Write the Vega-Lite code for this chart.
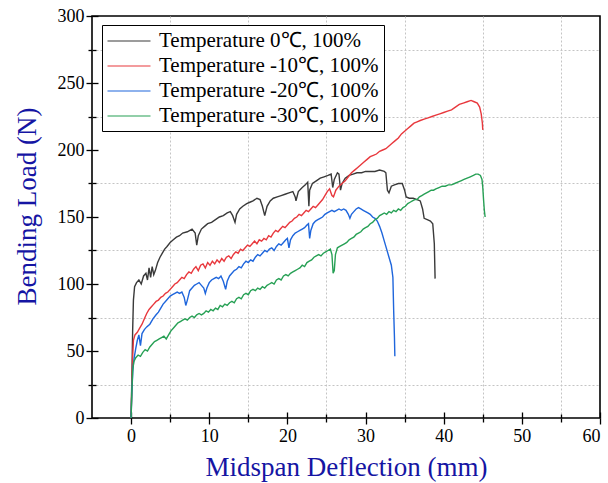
{
  "$schema": "https://vega.github.io/schema/vega-lite/v6.json",
  "width": 508,
  "height": 402,
  "autosize": {"type": "none"},
  "padding": {"left": 92, "top": 16, "right": 8, "bottom": 65},
  "background": "white",
  "config": {
    "view": {"stroke": "#000000", "strokeWidth": 1.6},
    "font": "Liberation Serif",
    "axis": {
      "labelFont": "Liberation Serif",
      "titleFont": "Liberation Serif",
      "labelColor": "#000000",
      "tickColor": "#000000",
      "domain": false,
      "tickWidth": 1.3
    }
  },
  "datasets": {
    "curves": [
      {"s":"a","x":0,"y":0},{"s":"a","x":0.1,"y":30},{"s":"a","x":0.2,"y":65},{"s":"a","x":0.3,"y":88},{"s":"a","x":0.45,"y":98},{"s":"a","x":0.7,"y":101},{"s":"a","x":1.0,"y":103},{"s":"a","x":1.3,"y":100},{"s":"a","x":1.6,"y":106},{"s":"a","x":1.9,"y":108},{"s":"a","x":2.1,"y":103},{"s":"a","x":2.3,"y":112},{"s":"a","x":2.5,"y":105},{"s":"a","x":2.7,"y":113},{"s":"a","x":2.9,"y":107},{"s":"a","x":3.1,"y":110},{"s":"a","x":3.4,"y":116},{"s":"a","x":3.7,"y":120},{"s":"a","x":4.0,"y":123},{"s":"a","x":4.3,"y":126},{"s":"a","x":4.6,"y":128},{"s":"a","x":5.0,"y":131},{"s":"a","x":5.4,"y":133},{"s":"a","x":5.8,"y":135},{"s":"a","x":6.2,"y":136},{"s":"a","x":6.6,"y":138},{"s":"a","x":7.2,"y":139},{"s":"a","x":7.8,"y":141},{"s":"a","x":8.2,"y":138},{"s":"a","x":8.4,"y":129},{"s":"a","x":8.6,"y":136},{"s":"a","x":9.0,"y":141},{"s":"a","x":9.4,"y":143},{"s":"a","x":9.8,"y":145},{"s":"a","x":10.3,"y":146},{"s":"a","x":10.8,"y":148},{"s":"a","x":11.3,"y":150},{"s":"a","x":11.8,"y":151},{"s":"a","x":12.3,"y":153},{"s":"a","x":12.7,"y":154},{"s":"a","x":13.0,"y":151},{"s":"a","x":13.3,"y":146},{"s":"a","x":13.5,"y":152},{"s":"a","x":13.9,"y":156},{"s":"a","x":14.3,"y":158},{"s":"a","x":14.8,"y":160},{"s":"a","x":15.2,"y":161},{"s":"a","x":15.6,"y":162},{"s":"a","x":16.1,"y":164},{"s":"a","x":16.5,"y":163},{"s":"a","x":16.8,"y":158},{"s":"a","x":17.1,"y":151},{"s":"a","x":17.4,"y":158},{"s":"a","x":17.8,"y":162},{"s":"a","x":18.2,"y":164},{"s":"a","x":18.7,"y":165},{"s":"a","x":19.2,"y":166},{"s":"a","x":19.7,"y":167},{"s":"a","x":20.2,"y":168},{"s":"a","x":20.7,"y":169},{"s":"a","x":21.0,"y":165},{"s":"a","x":21.1,"y":162},{"s":"a","x":21.4,"y":169},{"s":"a","x":21.9,"y":172},{"s":"a","x":22.3,"y":174},{"s":"a","x":22.6,"y":176},{"s":"a","x":22.75,"y":158},{"s":"a","x":22.85,"y":170},{"s":"a","x":23.2,"y":175},{"s":"a","x":23.7,"y":177},{"s":"a","x":24.2,"y":179},{"s":"a","x":24.7,"y":180},{"s":"a","x":25.2,"y":181},{"s":"a","x":25.6,"y":182},{"s":"a","x":25.8,"y":172},{"s":"a","x":26.0,"y":178},{"s":"a","x":26.4,"y":183},{"s":"a","x":26.6,"y":182},{"s":"a","x":26.8,"y":170},{"s":"a","x":27.0,"y":175},{"s":"a","x":27.4,"y":179},{"s":"a","x":27.9,"y":181},{"s":"a","x":28.4,"y":182},{"s":"a","x":28.9,"y":183},{"s":"a","x":29.5,"y":183},{"s":"a","x":30.0,"y":184},{"s":"a","x":30.6,"y":184},{"s":"a","x":31.2,"y":184},{"s":"a","x":31.8,"y":185},{"s":"a","x":32.4,"y":184},{"s":"a","x":32.6,"y":183},{"s":"a","x":32.8,"y":170},{"s":"a","x":33.0,"y":168},{"s":"a","x":33.3,"y":173},{"s":"a","x":33.7,"y":174},{"s":"a","x":34.2,"y":175},{"s":"a","x":34.7,"y":175},{"s":"a","x":35.0,"y":170},{"s":"a","x":35.2,"y":165},{"s":"a","x":35.6,"y":164},{"s":"a","x":36.1,"y":164},{"s":"a","x":36.6,"y":163},{"s":"a","x":37.0,"y":162},{"s":"a","x":37.3,"y":156},{"s":"a","x":37.5,"y":149},{"s":"a","x":37.9,"y":148},{"s":"a","x":38.3,"y":147},{"s":"a","x":38.6,"y":145},{"s":"a","x":38.8,"y":130},{"s":"a","x":38.9,"y":104},
      {"s":"b","x":0,"y":0},{"s":"b","x":0.1,"y":25},{"s":"b","x":0.2,"y":45},{"s":"b","x":0.3,"y":58},{"s":"b","x":0.5,"y":62},{"s":"b","x":0.8,"y":64},{"s":"b","x":1.1,"y":67},{"s":"b","x":1.4,"y":70},{"s":"b","x":1.7,"y":74},{"s":"b","x":2.0,"y":78},{"s":"b","x":2.3,"y":81},{"s":"b","x":2.6,"y":83},{"s":"b","x":2.9,"y":85},{"s":"b","x":3.2,"y":87},{"s":"b","x":3.5,"y":88},{"s":"b","x":3.8,"y":90},{"s":"b","x":4.1,"y":91},{"s":"b","x":4.4,"y":93},{"s":"b","x":4.7,"y":94},{"s":"b","x":5.0,"y":96},{"s":"b","x":5.3,"y":98},{"s":"b","x":5.6,"y":100},{"s":"b","x":5.9,"y":101},{"s":"b","x":6.2,"y":103},{"s":"b","x":6.5,"y":105},{"s":"b","x":6.8,"y":104},{"s":"b","x":7.1,"y":107},{"s":"b","x":7.4,"y":109},{"s":"b","x":7.7,"y":108},{"s":"b","x":8.0,"y":111},{"s":"b","x":8.3,"y":113},{"s":"b","x":8.6,"y":110},{"s":"b","x":8.9,"y":114},{"s":"b","x":9.2,"y":115},{"s":"b","x":9.5,"y":112},{"s":"b","x":9.8,"y":116},{"s":"b","x":10.1,"y":114},{"s":"b","x":10.4,"y":117},{"s":"b","x":10.7,"y":115},{"s":"b","x":11.0,"y":118},{"s":"b","x":11.3,"y":116},{"s":"b","x":11.6,"y":119},{"s":"b","x":11.9,"y":117},{"s":"b","x":12.2,"y":120},{"s":"b","x":12.5,"y":121},{"s":"b","x":12.8,"y":119},{"s":"b","x":13.1,"y":122},{"s":"b","x":13.4,"y":124},{"s":"b","x":13.7,"y":123},{"s":"b","x":14.0,"y":126},{"s":"b","x":14.3,"y":125},{"s":"b","x":14.6,"y":127},{"s":"b","x":14.9,"y":129},{"s":"b","x":15.2,"y":128},{"s":"b","x":15.5,"y":130},{"s":"b","x":15.8,"y":132},{"s":"b","x":16.1,"y":130},{"s":"b","x":16.4,"y":133},{"s":"b","x":16.7,"y":132},{"s":"b","x":17.0,"y":134},{"s":"b","x":17.3,"y":133},{"s":"b","x":17.6,"y":136},{"s":"b","x":17.9,"y":135},{"s":"b","x":18.2,"y":138},{"s":"b","x":18.5,"y":140},{"s":"b","x":18.8,"y":139},{"s":"b","x":19.1,"y":141},{"s":"b","x":19.4,"y":143},{"s":"b","x":19.7,"y":142},{"s":"b","x":20.0,"y":144},{"s":"b","x":20.3,"y":146},{"s":"b","x":20.6,"y":147},{"s":"b","x":20.9,"y":149},{"s":"b","x":21.2,"y":150},{"s":"b","x":21.5,"y":152},{"s":"b","x":21.8,"y":151},{"s":"b","x":22.1,"y":153},{"s":"b","x":22.4,"y":155},{"s":"b","x":22.7,"y":154},{"s":"b","x":23.0,"y":156},{"s":"b","x":23.3,"y":158},{"s":"b","x":23.6,"y":157},{"s":"b","x":23.9,"y":159},{"s":"b","x":24.2,"y":161},{"s":"b","x":24.5,"y":163},{"s":"b","x":24.8,"y":166},{"s":"b","x":25.1,"y":169},{"s":"b","x":25.4,"y":171},{"s":"b","x":25.7,"y":166},{"s":"b","x":25.9,"y":165},{"s":"b","x":26.2,"y":170},{"s":"b","x":26.6,"y":173},{"s":"b","x":27.0,"y":175},{"s":"b","x":27.4,"y":177},{"s":"b","x":27.8,"y":180},{"s":"b","x":28.2,"y":183},{"s":"b","x":28.6,"y":185},{"s":"b","x":29.0,"y":187},{"s":"b","x":29.4,"y":189},{"s":"b","x":29.8,"y":191},{"s":"b","x":30.2,"y":193},{"s":"b","x":30.6,"y":195},{"s":"b","x":31.0,"y":196},{"s":"b","x":31.4,"y":197},{"s":"b","x":31.8,"y":199},{"s":"b","x":32.2,"y":200},{"s":"b","x":32.6,"y":201},{"s":"b","x":33.0,"y":203},{"s":"b","x":33.4,"y":205},{"s":"b","x":33.8,"y":207},{"s":"b","x":34.2,"y":209},{"s":"b","x":34.6,"y":212},{"s":"b","x":35.0,"y":214},{"s":"b","x":35.4,"y":216},{"s":"b","x":35.8,"y":218},{"s":"b","x":36.2,"y":220},{"s":"b","x":36.6,"y":221},{"s":"b","x":37.0,"y":222},{"s":"b","x":37.5,"y":223},{"s":"b","x":38.0,"y":224},{"s":"b","x":38.5,"y":225},{"s":"b","x":39.0,"y":226},{"s":"b","x":39.5,"y":227},{"s":"b","x":40.0,"y":228},{"s":"b","x":40.5,"y":229},{"s":"b","x":41.0,"y":230},{"s":"b","x":41.5,"y":232},{"s":"b","x":42.0,"y":234},{"s":"b","x":42.5,"y":235},{"s":"b","x":43.0,"y":236},{"s":"b","x":43.5,"y":237},{"s":"b","x":43.9,"y":236},{"s":"b","x":44.3,"y":235},{"s":"b","x":44.6,"y":232},{"s":"b","x":44.8,"y":227},{"s":"b","x":44.95,"y":220},{"s":"b","x":45.0,"y":215},
      {"s":"c","x":0,"y":0},{"s":"c","x":0.1,"y":20},{"s":"c","x":0.25,"y":38},{"s":"c","x":0.4,"y":45},{"s":"c","x":0.6,"y":52},{"s":"c","x":0.8,"y":58},{"s":"c","x":1.0,"y":62},{"s":"c","x":1.2,"y":54},{"s":"c","x":1.4,"y":63},{"s":"c","x":1.7,"y":66},{"s":"c","x":2.0,"y":68},{"s":"c","x":2.4,"y":70},{"s":"c","x":2.8,"y":74},{"s":"c","x":3.2,"y":77},{"s":"c","x":3.5,"y":79},{"s":"c","x":3.8,"y":82},{"s":"c","x":4.1,"y":85},{"s":"c","x":4.4,"y":87},{"s":"c","x":4.7,"y":89},{"s":"c","x":5.0,"y":91},{"s":"c","x":5.3,"y":92},{"s":"c","x":5.6,"y":93},{"s":"c","x":5.9,"y":94},{"s":"c","x":6.2,"y":93},{"s":"c","x":6.5,"y":94},{"s":"c","x":6.8,"y":90},{"s":"c","x":7.0,"y":84},{"s":"c","x":7.2,"y":88},{"s":"c","x":7.5,"y":95},{"s":"c","x":7.8,"y":97},{"s":"c","x":8.1,"y":99},{"s":"c","x":8.4,"y":100},{"s":"c","x":8.7,"y":101},{"s":"c","x":9.0,"y":99},{"s":"c","x":9.3,"y":97},{"s":"c","x":9.5,"y":93},{"s":"c","x":9.7,"y":97},{"s":"c","x":10.0,"y":101},{"s":"c","x":10.3,"y":103},{"s":"c","x":10.6,"y":104},{"s":"c","x":10.9,"y":105},{"s":"c","x":11.2,"y":104},{"s":"c","x":11.5,"y":106},{"s":"c","x":11.8,"y":102},{"s":"c","x":12.1,"y":96},{"s":"c","x":12.3,"y":102},{"s":"c","x":12.6,"y":106},{"s":"c","x":12.9,"y":108},{"s":"c","x":13.2,"y":110},{"s":"c","x":13.5,"y":111},{"s":"c","x":13.8,"y":113},{"s":"c","x":14.1,"y":112},{"s":"c","x":14.4,"y":115},{"s":"c","x":14.7,"y":117},{"s":"c","x":15.0,"y":116},{"s":"c","x":15.3,"y":118},{"s":"c","x":15.6,"y":117},{"s":"c","x":15.9,"y":120},{"s":"c","x":16.2,"y":122},{"s":"c","x":16.5,"y":121},{"s":"c","x":16.8,"y":123},{"s":"c","x":17.1,"y":125},{"s":"c","x":17.4,"y":124},{"s":"c","x":17.7,"y":126},{"s":"c","x":18.0,"y":127},{"s":"c","x":18.3,"y":125},{"s":"c","x":18.6,"y":128},{"s":"c","x":18.9,"y":130},{"s":"c","x":19.2,"y":129},{"s":"c","x":19.5,"y":131},{"s":"c","x":19.8,"y":133},{"s":"c","x":20.0,"y":134},{"s":"c","x":20.2,"y":127},{"s":"c","x":20.4,"y":133},{"s":"c","x":20.7,"y":136},{"s":"c","x":21.0,"y":138},{"s":"c","x":21.3,"y":139},{"s":"c","x":21.6,"y":140},{"s":"c","x":21.9,"y":141},{"s":"c","x":22.2,"y":142},{"s":"c","x":22.5,"y":144},{"s":"c","x":22.7,"y":145},{"s":"c","x":22.85,"y":134},{"s":"c","x":23.0,"y":140},{"s":"c","x":23.3,"y":145},{"s":"c","x":23.6,"y":147},{"s":"c","x":23.9,"y":148},{"s":"c","x":24.2,"y":149},{"s":"c","x":24.5,"y":150},{"s":"c","x":24.8,"y":152},{"s":"c","x":25.1,"y":153},{"s":"c","x":25.4,"y":154},{"s":"c","x":25.7,"y":155},{"s":"c","x":26.0,"y":154},{"s":"c","x":26.3,"y":155},{"s":"c","x":26.6,"y":156},{"s":"c","x":26.9,"y":155},{"s":"c","x":27.2,"y":156},{"s":"c","x":27.5,"y":155},{"s":"c","x":27.8,"y":152},{"s":"c","x":28.0,"y":149},{"s":"c","x":28.2,"y":152},{"s":"c","x":28.5,"y":154},{"s":"c","x":28.8,"y":156},{"s":"c","x":29.1,"y":157},{"s":"c","x":29.4,"y":156},{"s":"c","x":29.7,"y":155},{"s":"c","x":30.0,"y":154},{"s":"c","x":30.3,"y":153},{"s":"c","x":30.6,"y":152},{"s":"c","x":30.9,"y":150},{"s":"c","x":31.2,"y":149},{"s":"c","x":31.5,"y":147},{"s":"c","x":31.8,"y":143},{"s":"c","x":32.1,"y":138},{"s":"c","x":32.4,"y":132},{"s":"c","x":32.7,"y":126},{"s":"c","x":33.0,"y":120},{"s":"c","x":33.3,"y":114},{"s":"c","x":33.5,"y":105},{"s":"c","x":33.6,"y":80},{"s":"c","x":33.7,"y":60},{"s":"c","x":33.75,"y":46},
      {"s":"d","x":0,"y":0},{"s":"d","x":0.1,"y":20},{"s":"d","x":0.2,"y":35},{"s":"d","x":0.35,"y":42},{"s":"d","x":0.6,"y":45},{"s":"d","x":0.9,"y":47},{"s":"d","x":1.2,"y":46},{"s":"d","x":1.5,"y":49},{"s":"d","x":1.8,"y":51},{"s":"d","x":2.1,"y":50},{"s":"d","x":2.4,"y":53},{"s":"d","x":2.7,"y":55},{"s":"d","x":3.0,"y":57},{"s":"d","x":3.3,"y":58},{"s":"d","x":3.6,"y":59},{"s":"d","x":3.9,"y":60},{"s":"d","x":4.2,"y":61},{"s":"d","x":4.5,"y":59},{"s":"d","x":4.8,"y":62},{"s":"d","x":5.1,"y":65},{"s":"d","x":5.4,"y":67},{"s":"d","x":5.7,"y":69},{"s":"d","x":6.0,"y":71},{"s":"d","x":6.3,"y":72},{"s":"d","x":6.6,"y":73},{"s":"d","x":6.9,"y":74},{"s":"d","x":7.2,"y":73},{"s":"d","x":7.5,"y":75},{"s":"d","x":7.8,"y":76},{"s":"d","x":8.1,"y":75},{"s":"d","x":8.4,"y":77},{"s":"d","x":8.7,"y":78},{"s":"d","x":9.0,"y":77},{"s":"d","x":9.3,"y":78},{"s":"d","x":9.6,"y":80},{"s":"d","x":9.9,"y":79},{"s":"d","x":10.2,"y":81},{"s":"d","x":10.5,"y":80},{"s":"d","x":10.8,"y":82},{"s":"d","x":11.1,"y":81},{"s":"d","x":11.4,"y":84},{"s":"d","x":11.7,"y":83},{"s":"d","x":12.0,"y":85},{"s":"d","x":12.3,"y":84},{"s":"d","x":12.6,"y":86},{"s":"d","x":12.9,"y":87},{"s":"d","x":13.2,"y":86},{"s":"d","x":13.5,"y":89},{"s":"d","x":13.8,"y":90},{"s":"d","x":14.1,"y":89},{"s":"d","x":14.4,"y":92},{"s":"d","x":14.7,"y":93},{"s":"d","x":15.0,"y":92},{"s":"d","x":15.3,"y":95},{"s":"d","x":15.6,"y":96},{"s":"d","x":15.9,"y":95},{"s":"d","x":16.2,"y":97},{"s":"d","x":16.5,"y":96},{"s":"d","x":16.8,"y":98},{"s":"d","x":17.1,"y":97},{"s":"d","x":17.4,"y":99},{"s":"d","x":17.7,"y":100},{"s":"d","x":18.0,"y":101},{"s":"d","x":18.3,"y":100},{"s":"d","x":18.6,"y":103},{"s":"d","x":18.9,"y":104},{"s":"d","x":19.2,"y":103},{"s":"d","x":19.5,"y":106},{"s":"d","x":19.8,"y":107},{"s":"d","x":20.1,"y":106},{"s":"d","x":20.4,"y":108},{"s":"d","x":20.7,"y":109},{"s":"d","x":21.0,"y":110},{"s":"d","x":21.3,"y":111},{"s":"d","x":21.6,"y":112},{"s":"d","x":21.9,"y":114},{"s":"d","x":22.2,"y":113},{"s":"d","x":22.5,"y":116},{"s":"d","x":22.8,"y":117},{"s":"d","x":23.1,"y":118},{"s":"d","x":23.4,"y":120},{"s":"d","x":23.7,"y":121},{"s":"d","x":24.0,"y":122},{"s":"d","x":24.3,"y":121},{"s":"d","x":24.6,"y":123},{"s":"d","x":24.9,"y":124},{"s":"d","x":25.2,"y":125},{"s":"d","x":25.5,"y":126},{"s":"d","x":25.7,"y":122},{"s":"d","x":25.85,"y":108},{"s":"d","x":26.0,"y":110},{"s":"d","x":26.15,"y":122},{"s":"d","x":26.4,"y":127},{"s":"d","x":26.7,"y":128},{"s":"d","x":27.0,"y":129},{"s":"d","x":27.3,"y":130},{"s":"d","x":27.6,"y":131},{"s":"d","x":27.9,"y":133},{"s":"d","x":28.2,"y":134},{"s":"d","x":28.5,"y":135},{"s":"d","x":28.8,"y":137},{"s":"d","x":29.1,"y":138},{"s":"d","x":29.4,"y":139},{"s":"d","x":29.7,"y":141},{"s":"d","x":30.0,"y":142},{"s":"d","x":30.3,"y":143},{"s":"d","x":30.6,"y":145},{"s":"d","x":30.9,"y":146},{"s":"d","x":31.2,"y":148},{"s":"d","x":31.5,"y":149},{"s":"d","x":31.8,"y":151},{"s":"d","x":32.1,"y":152},{"s":"d","x":32.4,"y":153},{"s":"d","x":32.7,"y":152},{"s":"d","x":33.0,"y":154},{"s":"d","x":33.3,"y":153},{"s":"d","x":33.6,"y":155},{"s":"d","x":33.9,"y":154},{"s":"d","x":34.2,"y":156},{"s":"d","x":34.5,"y":155},{"s":"d","x":34.8,"y":157},{"s":"d","x":35.1,"y":158},{"s":"d","x":35.4,"y":160},{"s":"d","x":35.7,"y":161},{"s":"d","x":36.0,"y":162},{"s":"d","x":36.3,"y":163},{"s":"d","x":36.6,"y":163},{"s":"d","x":36.9,"y":165},{"s":"d","x":37.2,"y":166},{"s":"d","x":37.5,"y":167},{"s":"d","x":37.8,"y":168},{"s":"d","x":38.1,"y":169},{"s":"d","x":38.4,"y":170},{"s":"d","x":38.7,"y":170},{"s":"d","x":39.0,"y":171},{"s":"d","x":39.4,"y":172},{"s":"d","x":39.8,"y":173},{"s":"d","x":40.2,"y":173},{"s":"d","x":40.6,"y":174},{"s":"d","x":41.0,"y":174},{"s":"d","x":41.4,"y":175},{"s":"d","x":41.8,"y":176},{"s":"d","x":42.2,"y":177},{"s":"d","x":42.6,"y":178},{"s":"d","x":43.0,"y":179},{"s":"d","x":43.4,"y":180},{"s":"d","x":43.8,"y":181},{"s":"d","x":44.1,"y":182},{"s":"d","x":44.4,"y":182},{"s":"d","x":44.7,"y":181},{"s":"d","x":44.9,"y":178},{"s":"d","x":45.0,"y":172},{"s":"d","x":45.1,"y":163},{"s":"d","x":45.2,"y":155},{"s":"d","x":45.3,"y":150}
    ]
  },
  "data": {"name": "curves"},
  "layer": [
    {
      "mark": {"type": "line", "strokeWidth": 1.4, "interpolate": "linear"},
      "encoding": {
        "x": {
          "field": "x", "type": "quantitative",
          "scale": {"domain": [-5, 60], "nice": false, "zero": false},
          "axis": {
            "orient": "bottom",
            "values": [0,5,10,15,20,25,30,35,40,45,50,55,60],
            "labelExpr": "datum.value % 10 === 0 ? datum.label : ''",
            "labelFontSize": 18,
            "labelPadding": 3,
            "tickSize": {"condition": {"test": "datum.value % 10 === 0", "value": 6}, "value": 4},
            "grid": true,
            "gridColor": "#c4c4c4",
            "gridDash": [2, 2],
            "gridWidth": 1,
            "gridOpacity": {"condition": {"test": "datum.value % 10 === 0", "value": 0}, "value": 1},
            "title": "Midspan Deflection (mm)",
            "titleFontSize": 27,
            "titleFontWeight": "normal",
            "titleColor": "#1515a3",
            "titlePadding": 9
          }
        },
        "y": {
          "field": "y", "type": "quantitative",
          "scale": {"domain": [0, 300], "nice": false},
          "axis": {
            "orient": "left",
            "values": [0,25,50,75,100,125,150,175,200,225,250,275,300],
            "labelExpr": "datum.value % 50 === 0 ? datum.label : ''",
            "labelFontSize": 18,
            "labelPadding": 2,
            "tickSize": {"condition": {"test": "datum.value % 50 === 0", "value": 6}, "value": 4},
            "grid": true,
            "gridColor": "#c4c4c4",
            "gridDash": [2, 2],
            "gridWidth": 1,
            "gridOpacity": {"condition": {"test": "datum.value % 50 === 0", "value": 0}, "value": 1},
            "title": "Bending Load (N)",
            "titleFontSize": 27,
            "titleFontWeight": "normal",
            "titleColor": "#1515a3",
            "titlePadding": 16,
            "titleY": 190
          }
        },
        "color": {
          "field": "s", "type": "nominal",
          "scale": {"domain": ["a","b","c","d"], "range": ["#3a3a3a", "#e8383d", "#1f66dc", "#27a055"]},
          "legend": {
            "orient": "none",
            "legendX": 10,
            "legendY": 9,
            "title": null,
            "labelExpr": "{'a': 'Temperature 0℃, 100%', 'b': 'Temperature -10℃, 100%', 'c': 'Temperature -20℃, 100%', 'd': 'Temperature -30℃, 100%'}[datum.label]",
            "labelFont": "Liberation Serif",
            "labelFontSize": 21,
            "labelColor": "#000000",
            "labelOffset": 19,
            "labelLimit": 400,
            "symbolType": "M-2.15,0H2.15",
            "symbolSize": 400,
            "symbolOffset": 11,
            "symbolStrokeWidth": 1.2,
            "rowPadding": 4,
            "padding": 5,
            "strokeColor": "#000000",
            "fillColor": "#ffffff"
          }
        }
      }
    },
    {
      "mark": {"type": "point", "opacity": 0},
      "encoding": {
        "x": {
          "field": "x", "type": "quantitative",
          "axis": {
            "orient": "bottom",
            "values": [0,5,10,15,20,25,30,35,40,45,50,55,60],
            "labels": false, "grid": false, "domain": false, "title": null,
            "tickSize": {"condition": {"test": "datum.value % 10 === 0", "value": -6}, "value": -4}
          }
        },
        "y": {
          "field": "y", "type": "quantitative",
          "axis": {
            "orient": "left",
            "values": [0,25,50,75,100,125,150,175,200,225,250,275,300],
            "labels": false, "grid": false, "domain": false, "title": null,
            "tickSize": {"condition": {"test": "datum.value % 50 === 0", "value": -6}, "value": -4}
          }
        }
      }
    }
  ],
  "resolve": {"axis": {"x": "independent", "y": "independent"}}
}
